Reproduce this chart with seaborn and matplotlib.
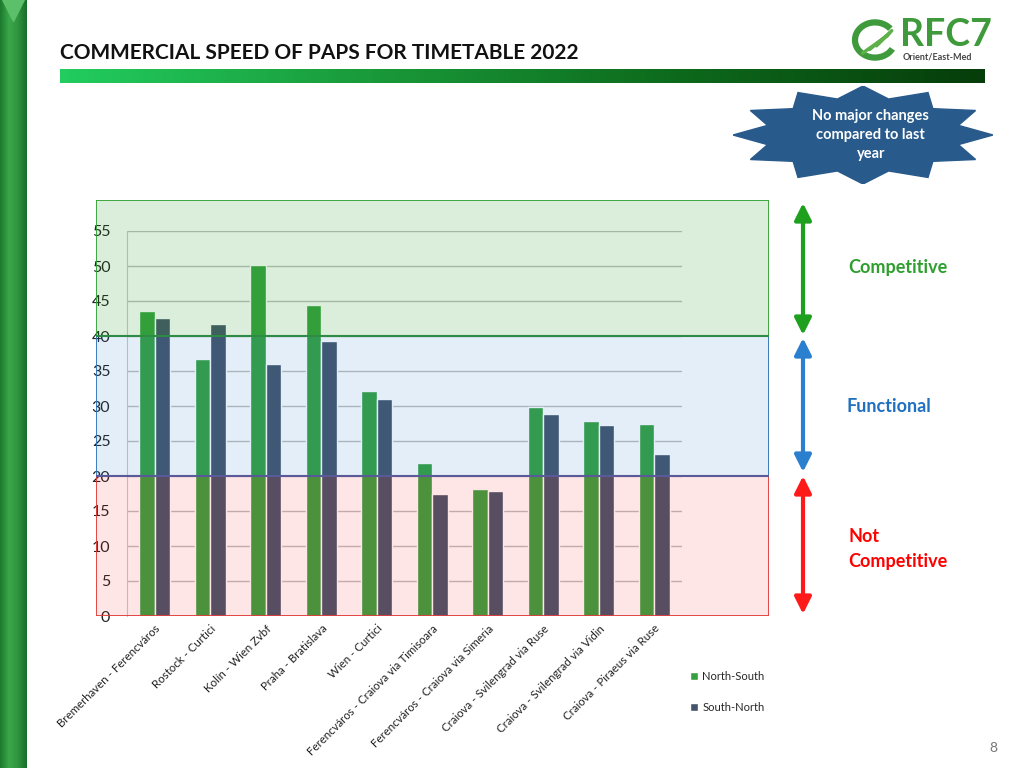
import numpy as np
import pandas as pd
import matplotlib
matplotlib.use('Agg')
import matplotlib.pyplot as plt
import seaborn as sns
from matplotlib.patches import Rectangle, Polygon, Arc
from matplotlib.colors import LinearSegmentedColormap

routes = ['Bremerhaven - Ferencváros', 'Rostock - Curtici', 'Kolín - Wien Zvbf',
          'Praha - Bratislava', 'Wien - Curtici', 'Ferencváros - Craiova via Timisoara',
          'Ferencváros - Craiova via Simeria', 'Craiova - Svilengrad via Ruse',
          'Craiova - Svilengrad via Vidin', 'Craiova - Piraeus via Ruse']
north_south = [43.6, 36.7, 50.1, 44.4, 32.2, 21.9, 18.2, 29.8, 27.9, 27.4]
south_north = [42.6, 41.7, 36.0, 39.3, 31.0, 17.5, 17.9, 28.9, 27.3, 23.1]
directions = ['North-South', 'South-North']
y_ticks = list(range(0, 60, 5))

df = pd.DataFrame({
    'route': routes * 2,
    'speed': north_south + south_north,
    'direction': [directions[0]] * len(routes) + [directions[1]] * len(routes),
})

sns.set_style('white')
plt.rcParams['font.family'] = ['Lato', 'DejaVu Sans']

W, H = 1024, 768
fig = plt.figure(figsize=(10.24, 7.68), dpi=100)


def box(x0, y0, x1, y1):
    # pixel box (top-left origin) -> figure fraction rect
    return [x0 / W, 1 - y1 / H, (x1 - x0) / W, (y1 - y0) / H]


# left green strip
strip = fig.add_axes(box(0, 0, 27, 768))
strip_cmap = LinearSegmentedColormap.from_list('s', ['#1c7a2c', '#3aa84a', '#2f9440', '#1a6e28'])
strip.imshow(np.linspace(0, 1, 50)[None, :], cmap=strip_cmap, aspect='auto', extent=[0, 1, 0, 1])
strip.add_patch(Polygon([[0.1, 1.0], [0.9, 1.0], [0.5, 0.972]], closed=True, color='#5cc06a'))
strip.set_xlim(0, 1)
strip.set_ylim(0, 1)
strip.axis('off')

# gradient bar under title
bar = fig.add_axes(box(60, 69, 985, 83))
bar_cmap = LinearSegmentedColormap.from_list('g', ['#22cc5f', '#1a9a3a', '#0d6a1c', '#063d0a'])
bar.imshow(np.linspace(0, 1, 300)[None, :], cmap=bar_cmap, aspect='auto')
bar.axis('off')

fig.text(60 / W, 1 - 53 / H, 'COMMERCIAL SPEED OF PAPS FOR TIMETABLE 2022',
         fontsize=15, fontweight='bold', color='#111111', va='center', ha='left')

# logo
logo = fig.add_axes(box(850, 18, 900, 62))
logo.set_xlim(0, 1)
logo.set_ylim(0, 1)
logo.axis('off')
logo.add_patch(Arc((0.5, 0.5), 0.8, 0.8, theta1=40, theta2=330, lw=4.5, color='#3f9a3c'))
for off in [0.0, 0.14, 0.28]:
    logo.plot([0.25 + off, 0.75 + off * 0.3], [0.2 + off * 0.6, 0.6 + off * 0.4],
              color='#5fb04a', lw=2.5, solid_capstyle='round')
fig.text(900 / W, 1 - 35 / H, 'RFC7', fontsize=27, fontweight='bold', color='#3f9a3c',
         va='center', ha='left')
fig.text(903 / W, 1 - 57 / H, 'Orient/East-Med', fontsize=6.5, fontweight='bold',
         color='#444444', va='center', ha='left')

# star badge
star = fig.add_axes(box(733, 86, 993, 184))
star.set_xlim(-1, 1)
star.set_ylim(-1, 1)
star.axis('off')
n = 12
ang = np.linspace(np.pi / 2, np.pi / 2 + 2 * np.pi, 2 * n, endpoint=False)
rad = np.where(np.arange(2 * n) % 2 == 0, 1.0, 0.76)
pts = np.c_[rad * np.cos(ang), rad * np.sin(ang)]
star.add_patch(Polygon(pts, closed=True, color='#285a8c'))
star.text(0.06, 0.0, 'No major changes\ncompared to last\nyear', color='white', fontsize=10.5,
          fontweight='bold', ha='center', va='center', linespacing=1.45)

# main chart
ns_color = '#36a040'
sn_color = '#44546a'
ax = fig.add_axes(box(127, 231, 682, 616))
ax.set_zorder(1)
sns.barplot(data=df, x='route', y='speed', hue='direction', palette=[ns_color, sn_color],
            width=0.56, gap=0, saturation=1, ax=ax)
ax.set_ylim(0, 55)
ax.set_xlim(-0.5, len(routes) - 0.5)
ax.set_yticks(y_ticks)
ax.tick_params(axis='y', length=0, pad=12, labelsize=11.5, labelcolor='#222222')
ax.yaxis.grid(True, color='#bdbdbd', lw=1)
ax.set_axisbelow(True)
ax.set_xticks(range(len(routes)))
ax.set_xticklabels(routes, rotation=45, ha='right', rotation_mode='anchor',
                   fontsize=8.3, color='#222222')
ax.set_xticks(np.arange(-0.5, len(routes)), minor=True)
ax.tick_params(axis='x', which='major', length=0, pad=5)
ax.tick_params(axis='x', which='minor', length=5, color='#bdbdbd', width=1)
ax.set_xlabel('')
ax.set_ylabel('')
for s in ['top', 'right', 'bottom']:
    ax.spines[s].set_visible(False)
ax.spines['left'].set_color('#c8c8c8')
ax.patch.set_alpha(0)
ax.legend(loc='upper left', bbox_to_anchor=(680 / W, 1 - 661 / H), bbox_transform=fig.transFigure,
          frameon=False, fontsize=8, labelspacing=1.8, handlelength=0.7, handleheight=0.7,
          handletextpad=0.4)

# performance bands overlay (same value scale as chart)
bg = fig.add_axes(box(96, 200, 769, 616))
bg.set_zorder(2)
bg.patch.set_visible(False)
bg.axis('off')
top_val = 55 * (616 - 200) / (616 - 231)
bg.set_xlim(0, 1)
bg.set_ylim(0, top_val)
bands = [(40, top_val, '#1f9a1f', 0.16, '#33a033'),
         (20, 40, '#1f78c8', 0.12, '#2e75b6'),
         (0, 20, '#ff2020', 0.11, '#e03a3a')]
for lo, hi, fc, a, ec in bands:
    bg.add_patch(Rectangle((0, lo), 1, hi - lo, facecolor=fc, alpha=a, edgecolor='none'))
    bg.add_patch(Rectangle((0, lo), 1, hi - lo, facecolor='none', edgecolor=ec, lw=1.3))
bg.axhline(40, color='#2e8b46', lw=1.5)
bg.axhline(20, color='#5a5a9a', lw=1.5)

# right side arrows and labels
arr = fig.add_axes(box(780, 195, 830, 620))
arr.set_xlim(0, 1)
arr.set_ylim(620, 195)
arr.axis('off')
for y0, y1, c in [(203, 335, '#1ea01e'), (338, 472, '#2a7fcf'), (476, 614, '#ff1a1a')]:
    arr.annotate('', xy=(0.46, y0), xytext=(0.46, y1),
                 arrowprops=dict(arrowstyle='<|-|>,head_length=1.0,head_width=0.5',
                                 color=c, lw=3, shrinkA=0, shrinkB=0))

fig.text(848 / W, 1 - 267 / H, 'Competitive', color='#2e9e2e', fontsize=13,
         fontweight='bold', va='center', ha='left')
fig.text(847 / W, 1 - 406 / H, 'Functional', color='#2070c0', fontsize=13,
         fontweight='bold', va='center', ha='left')
fig.text(848 / W, 1 - 549 / H, 'Not\nCompetitive', color='#ff0000', fontsize=13,
         fontweight='bold', va='center', ha='left', linespacing=1.55)

fig.text(993 / W, 1 - 748 / H, '8', color='#777777', fontsize=10, ha='center', va='center')

fig.savefig('out.png', dpi=100)
